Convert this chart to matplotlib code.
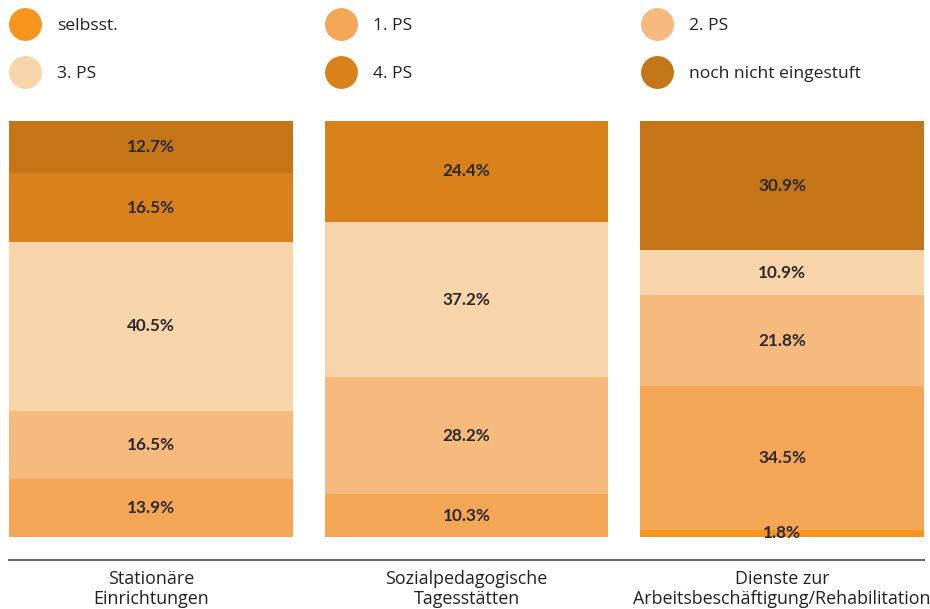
import matplotlib
matplotlib.use("Agg")
import matplotlib.pyplot as plt
import numpy as np

plt.rcParams['font.family'] = ['Open Sans', 'DejaVu Sans']

categories = ["Stationäre\nEinrichtungen", "Sozialpedagogische\nTagesstätten",
              "Dienste zur\nArbeitsbeschäftigung/Rehabilitation"]
series_names = ["selbsst.", "1. PS", "2. PS", "3. PS", "4. PS", "noch nicht eingestuft"]
selbsst = [0.0, 0.0, 1.8]
ps1 = [13.9, 10.3, 34.5]
ps2 = [16.5, 28.2, 21.8]
ps3 = [40.5, 37.2, 10.9]
ps4 = [16.5, 24.4, 0.0]
noch = [12.7, 0.0, 30.9]
series_values = [selbsst, ps1, ps2, ps3, ps4, noch]
colors = ["#F7941D", "#F4A657", "#F6BA7F", "#F8D4AB", "#D9821B", "#C47517"]

W, H = 930, 609
fig = plt.figure(figsize=(W / 100, H / 100), dpi=100)

# main axes: pixel frame x 9..924, y 121..560
ax = fig.add_axes([9 / W, 1 - 560 / H, (924 - 9) / W, (560 - 121) / H])
x = np.arange(len(categories))
bottom = np.zeros(len(categories))
for name, vals, col in zip(series_names, series_values, colors):
    vals = np.array(vals)
    ax.bar(x, vals, bottom=bottom, width=0.9, color=col, label=name, linewidth=0)
    for xi, v, b in zip(x, vals, bottom):
        if v > 0:
            ax.text(xi, b + v / 2, f"{v:.1f}%", ha="center", va="center",
                    fontsize=12.3, fontweight="bold", color="#2a2a2a",
                    family=["Lato", "DejaVu Sans"])
    bottom += vals

ax.set_xlim(-0.45, 2.45)
ax.set_ylim(-5.5, 100.0)
for s in ["top", "left", "right"]:
    ax.spines[s].set_visible(False)
ax.spines["bottom"].set_color("#666666")
ax.spines["bottom"].set_linewidth(1.5)
ax.set_yticks([])
ax.set_xticks(x)
ax.set_xticklabels(categories, fontsize=12.9, color="#222222", linespacing=1.15)
ax.tick_params(axis="x", length=0, pad=7)

# legend drawn manually in a pixel-space axes
lax = fig.add_axes([0, 0, 1, 1])
lax.set_xlim(0, W)
lax.set_ylim(H, 0)
lax.axis("off")
col_x = [25, 341, 657]
row_y = [24, 72]
for i, (name, col) in enumerate(zip(series_names, colors)):
    cx = col_x[i % 3]
    cy = row_y[i // 3]
    lax.scatter([cx], [cy], s=560, color=col, marker="o", linewidths=0)
    lax.text(cx + 32, cy + 1.5, name, ha="left", va="center", fontsize=12.6, color="#222222")

fig.savefig("out.png", dpi=100)
